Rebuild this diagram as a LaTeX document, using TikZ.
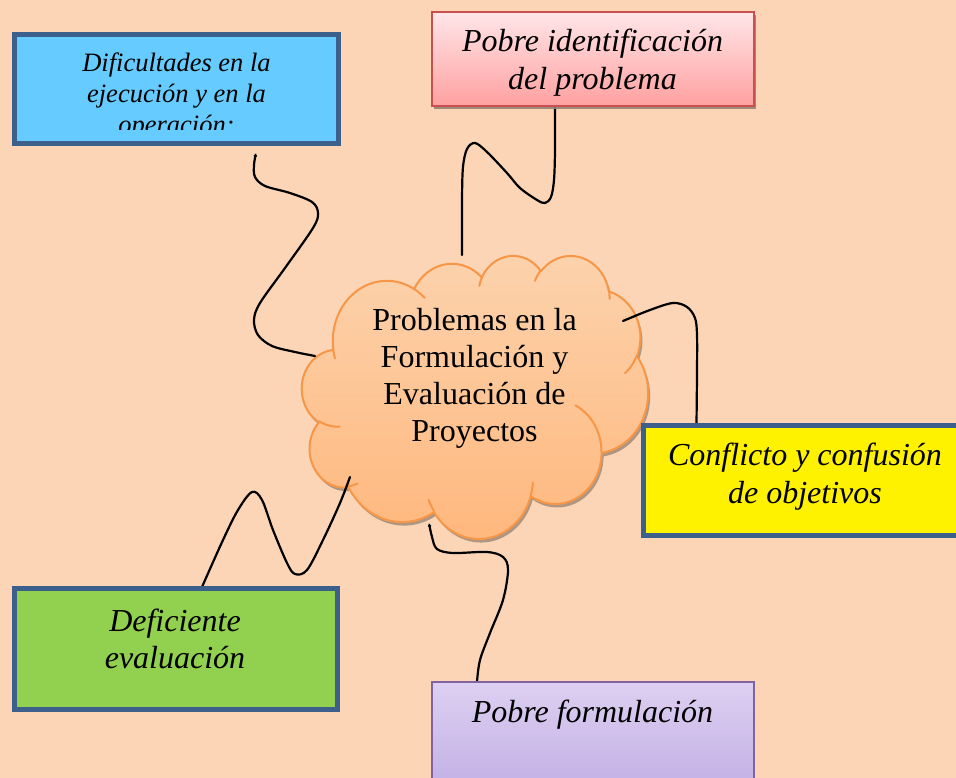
\documentclass[tikz,border=0pt]{standalone}
\usepackage{fontspec}
\setmainfont{Liberation Serif}
\usetikzlibrary{shadows,arrows.meta}
\definecolor{bgpeach}{RGB}{251,213,181}
\definecolor{boxborder}{RGB}{60,95,140}
\definecolor{skyfill}{RGB}{102,204,255}
\definecolor{limefill}{RGB}{146,208,80}
\definecolor{cloudline}{RGB}{247,150,70}
\definecolor{cloudtop}{RGB}{252,210,172}
\definecolor{cloudbot}{RGB}{255,184,126}
\definecolor{redline}{RGB}{200,80,80}
\definecolor{redtop}{RGB}{255,230,232}
\definecolor{redbot}{RGB}{255,160,160}
\definecolor{purpline}{RGB}{128,100,162}
\definecolor{purptop}{RGB}{221,208,241}
\definecolor{purpbot}{RGB}{194,174,229}
\definecolor{shadowc}{RGB}{150,130,115}
% one elliptical arc of the cloud outline (units: 432 = frame size)
\newcommand\ofstep[4]{%
  \pgfmathsetmacro\ofts{atan2(#1*sin(#3),#2*cos(#3))}%
  \pgfmathsetmacro\ofte{atan2(#1*sin(#3+#4),#2*cos(#3+#4))}%
  \pgfmathsetmacro\ofdt{mod(\ofte-\ofts+720,360)}%
  \pgfmathsetmacro\ofcx{\ofX-#1*cos(\ofts)}%
  \pgfmathsetmacro\ofcy{\ofY-#2*sin(\ofts)}%
  \pgfmathsetmacro\ofend{\ofts+\ofdt}%
  \pgfmathsetmacro\ofX{\ofcx+#1*cos(\ofend)}%
  \pgfmathsetmacro\ofY{\ofcy+#2*sin(\ofend)}%
  \xdef\ofpath{\unexpanded\expandafter{\ofpath} -- plot[domain=\ofts:\ofend,samples=40,variable=\noexpand\myang] ({\ofcx+#1*cos(\noexpand\myang)},{\ofcy+#2*sin(\noexpand\myang)})}%
}
\newcommand\ofinner[6]{%
  \def\ofX{#1}\def\ofY{#2}\gdef\ofpath{(#1,#2)}%
  \ofstep{#3}{#4}{#5}{#6}%
  \draw[puffline] \ofpath;%
}
\begin{document}
\begin{tikzpicture}[x=1pt,y=-1pt,
  thickbox/.style={draw=boxborder, line width=5pt, minimum width=324pt, minimum height=109pt, inner sep=0pt},
  thinbox/.style={line width=2pt, minimum width=322pt, minimum height=94pt, inner sep=0pt,
    drop shadow={shadow xshift=1.5pt, shadow yshift=-3pt, fill=shadowc, opacity=0.9}},
  boxtext/.style={font=\fontsize{32}{38}\selectfont\itshape, align=center, inner sep=0pt},
  conn/.style={line width=2.2pt, line cap=round, line join=round},
  freeend/.style={-{Latex[length=3.5pt,width=4pt]}},
  puffline/.style={draw=cloudline, line width=2pt, line cap=round, line join=round},
]
\useasboundingbox (0,0) rectangle (956,778);
\clip (0,0) rectangle (956,778);
\fill[bgpeach] (0,0) rectangle (956,778);

% ---- central cloud: outline computed from elliptical arcs
\def\ofX{39.00}\def\ofY{143.70}\gdef\ofpath{(39.00,143.70)}
\ofstep{67.53}{91.90}{-190.4875}{123.7805}
\ofstep{53.33}{72.67}{-144.1024}{89.9452}
\ofstep{43.65}{59.45}{-145.8079}{99.7230}
\ofstep{48.57}{65.95}{-130.9861}{117.2417}
\ofstep{53.33}{72.73}{-78.7089}{109.0269}
\ofstep{67.75}{92.20}{-46.2673}{130.2690}
\ofstep{57.85}{78.67}{0.6250}{114.0333}
\ofstep{67.52}{92.15}{22.4516}{115.1726}
\ofstep{77.20}{105.43}{66.2426}{75.7110}
\ofstep{43.60}{59.18}{-274.9421}{146.7356}
\ofstep{43.45}{59.45}{-246.8285}{152.5189}
\let\mycloudoutline\ofpath
\begin{scope}[shift={(304,258.5)}, xscale=0.80093, yscale=0.65509]
  \fill[shadowc, opacity=0.75] \mycloudoutline -- cycle;
\end{scope}
\begin{scope}[shift={(302,255)}, xscale=0.80093, yscale=0.65509]
  \path[puffline, top color=cloudtop, bottom color=cloudbot] \mycloudoutline -- cycle;
  \ofinner{46.93}{261.77}{43.45}{59.45}{86.7420}{26.4295}
  \ofinner{69.28}{348.99}{43.60}{59.18}{73.6105}{11.4475}
  \ofinner{164.78}{390.90}{67.52}{92.15}{137.6242}{14.0811}
  \ofinner{288.27}{347.51}{67.52}{92.15}{6.4533}{15.9984}
  \ofinner{341.29}{229.54}{57.85}{78.67}{-70.2924}{70.9174}
  \ofinner{417.98}{153.54}{53.33}{72.73}{30.3180}{27.7515}
  \ofinner{383.24}{54.26}{48.57}{65.95}{-13.7443}{14.8589}
  \ofinner{290.78}{39.52}{48.57}{65.95}{-149.1815}{18.1954}
  \ofinner{221.41}{47.20}{43.65}{59.45}{-163.4943}{17.6864}
  \ofinner{140.00}{51.92}{67.53}{91.90}{-66.7070}{12.3194}
  \ofinner{41.27}{157.89}{67.53}{91.90}{157.6544}{11.8582}
\end{scope}
\node[font=\fontsize{32}{37.2}\selectfont, align=center, inner sep=0pt] (ctext) at (474.5,378.5)
  {Problemas en la\\Formulación y\\Evaluación de\\Proyectos};

% connector endpoints
\coordinate (b1) at (256,153);
\coordinate (k1) at (315,356);
\coordinate (r1) at (555,107);
\coordinate (k2) at (462,255);
\coordinate (k3) at (623,321);
\coordinate (y1) at (696.5,424);
\coordinate (g1) at (202,587);
\coordinate (k4) at (350,477);
\coordinate (p1) at (429,523);
\coordinate (pp) at (477,682);

% connectors
\draw[conn, freeend] plot[smooth, tension=0.55] coordinates {(k1) (295,352) (272,346) (258,335) (254,320) (260,303) (285,268) (313,228) (318,213) (312,202) (290,193) (265,186) (255,177) (254,165) (b1)};
\draw[conn] plot[smooth, tension=0.55] coordinates {(r1) (555,150) (554,180) (551,197) (545,203) (537,200) (520,188) (507,173) (487,152) (475,143) (467,149) (463,167) (462,200) (k2)};
\draw[conn] plot[smooth, tension=0.55] coordinates {(k3) (650,310) (673,303) (687,307) (695,318) (697,335) (697,373) (y1)};
\draw[conn] plot[smooth, tension=0.55] coordinates {(g1) (223,540) (238,510) (252,492) (262,500) (273,530) (287,563) (295,574) (307,570) (323,540) (340,503) (k4)};
\draw[conn, freeend] plot[smooth, tension=0.55] coordinates {(pp) (480,660) (490,633) (503,600) (508,570) (503,557) (487,552) (453,553) (437,549) (432,537) (p1)};

% boxes
\node[thickbox, fill=skyfill] (blue) at (176.5,89) {};
\node[thinbox, draw=redline, top color=redtop, bottom color=redbot] (red) at (593,59) {};
\node[thickbox, fill=yellow, minimum height=110pt] (yellowbox) at (805,480.5) {};
\node[thickbox, fill=limefill, minimum width=323pt, minimum height=121pt] (green) at (176,649) {};
\node[thinbox, draw=purpline, top color=purptop, bottom color=purpbot, minimum height=110pt] (purple) at (592.5,737) {};

% box texts
\begin{scope}
\clip (14,34) rectangle (339,130);
\node[boxtext, font=\fontsize{26.5}{31}\selectfont\itshape] (tblue) at (176.5,95.8)
  {Dificultades en la\\ejecución y en la\\operación:};
\end{scope}
\node[boxtext] (tred) at (592.5,62.5) {Pobre identificación\\del problema};
\node[boxtext] (tyellow) at (805,476.5) {Conflicto y confusión\\de objetivos};
\node[boxtext, font=\fontsize{32}{37}\selectfont\itshape] (tgreen) at (175,638.5) {Deficiente\\evaluación};
\node[boxtext, anchor=base] (tpurple) at (592.5,722) {Pobre formulación};
\end{tikzpicture}
\end{document}
